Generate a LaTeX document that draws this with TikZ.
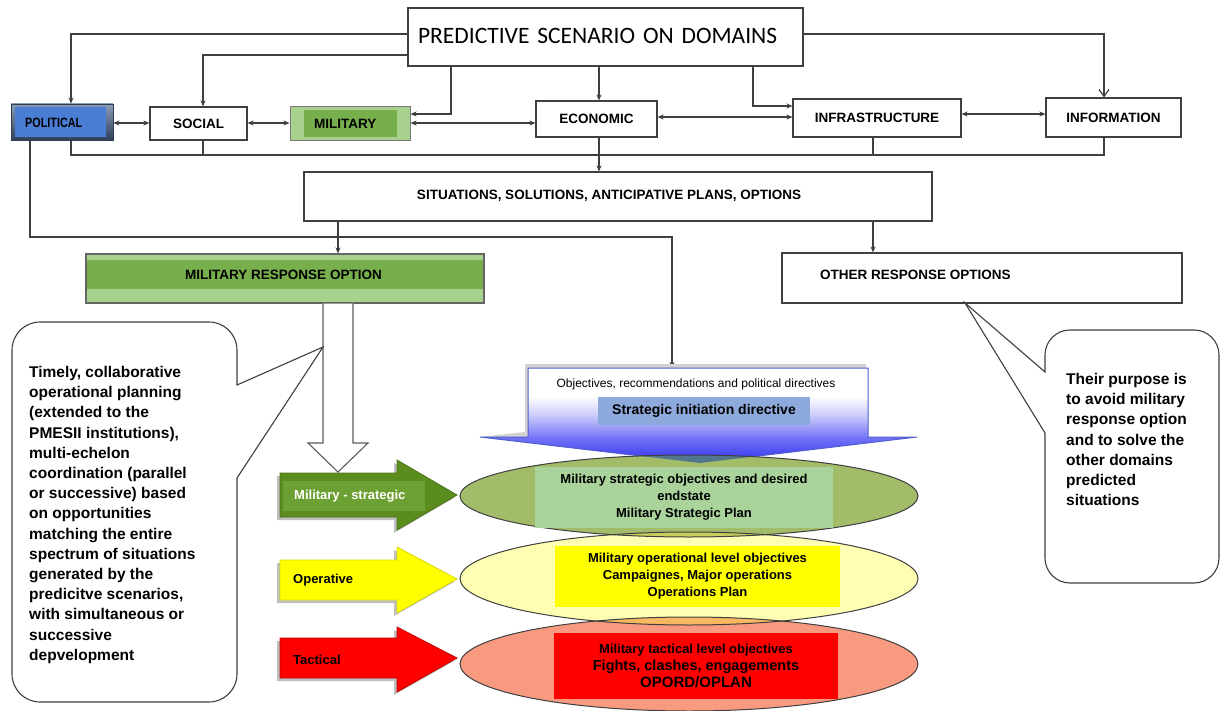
\documentclass[tikz,border=0pt]{standalone}
\usepackage{fontspec}
\setmainfont{Liberation Sans}
\newfontfamily\calfont{Carlito}
\usetikzlibrary{arrows.meta,calc}
\definecolor{ln}{HTML}{3F3F3F}
\definecolor{polblue}{HTML}{4A7DD4}
\definecolor{polT}{HTML}{8A9BB5}
\definecolor{polB}{HTML}{2E3F5A}
\definecolor{lgreen}{HTML}{A9D18E}
\definecolor{mgreen}{HTML}{77AF4C}
\definecolor{dgreen}{HTML}{5B8C1E}
\definecolor{dgreenE}{HTML}{4A7316}
\definecolor{dgreen2}{HTML}{6DA032}
\definecolor{ell1}{HTML}{A2BC6A}
\definecolor{ell1in}{HTML}{A9D39A}
\definecolor{ell2}{HTML}{FFFFB4}
\definecolor{ell3}{HTML}{F79A80}
\definecolor{lens12}{HTML}{C8CE5C}
\definecolor{lens23}{HTML}{F8B862}
\definecolor{lensb}{HTML}{52778C}
\definecolor{sidblue}{HTML}{8EA9DB}
\definecolor{bdeep}{HTML}{3030F0}
\definecolor{bmid}{HTML}{7272F6}
\definecolor{blight}{HTML}{CACAFC}
\definecolor{bline}{HTML}{5060D0}
\definecolor{opyel}{HTML}{FFFF00}
\definecolor{opyelE}{HTML}{D8D800}
\definecolor{tacred}{HTML}{FF0000}
\definecolor{tacredE}{HTML}{C00000}
\pgfdeclareverticalshading{bluearr}{100bp}{color(0bp)=(bdeep); color(25bp)=(bdeep); color(38bp)=(bmid); color(50bp)=(blight); color(60bp)=(white); color(100bp)=(white)}
\tikzset{
  box/.style={draw=ln, line width=1.1pt, fill=white, inner sep=0pt, font=\fontsize{13.5}{16}\selectfont\bfseries},
  conn/.style={draw=ln, line width=1.2pt},
  arr/.style={conn, -{Stealth[length=6pt,width=5pt]}},
  dbl/.style={conn, {Stealth[length=6pt,width=5pt]}-{Stealth[length=6pt,width=5pt]}},
  lbl/.style={inner sep=0pt, font=\fontsize{13.5}{16}\selectfont\bfseries},
  calltext/.style={inner sep=0pt, align=left, font=\fontsize{15.5}{20.2}\selectfont\bfseries},
  elltext/.style={inner sep=0pt, align=center, font=\fontsize{13}{17}\selectfont\bfseries},
  callout/.style={draw=ln, line width=1.1pt, fill=white},
}
\begin{document}
\begin{tikzpicture}[x=1pt,y=-1pt]
\useasboundingbox (0,0) rectangle (1222,711);
\fill[white] (0,0) rectangle (1222,711);

% ---------- top box and domain boxes
\node[box, minimum width=395pt, minimum height=58pt, text width=375pt, align=left,
      font=\calfont\fontsize{23.5}{26}\selectfont] (top) at (605.5,37) {\raisebox{2pt}{PREDICTIVE SCENARIO ON DOMAINS}};

\node[draw=polB, line width=0.8pt, top color=polT, bottom color=polB, minimum width=102pt, minimum height=36pt, inner sep=0pt] (pol) at (62,122) {};
\node[fill=polblue, minimum width=91pt, minimum height=30pt, inner sep=0pt] (polin) at (60.5,122) {};
\node[lbl, anchor=west] (poltxt) at (25,123) {\scalebox{0.8}[1]{POLITICAL}};

\node[box, minimum width=97pt, minimum height=33pt] (soc) at (198.5,123.5) {SOCIAL};

\node[draw=ln!70, line width=1pt, fill=lgreen, minimum width=120pt, minimum height=34pt, inner sep=0pt] (mil) at (350,123.5) {};
\node[fill=mgreen, minimum width=93pt, minimum height=27pt, inner sep=0pt] (milin) at (350.5,123.5) {};
\node[lbl, anchor=west] (miltxt) at (314,124) {MILITARY};

\node[box, minimum width=121pt, minimum height=36pt] (eco) at (596.5,119) {ECONOMIC};
\node[box, minimum width=168pt, minimum height=38pt] (inf) at (877,118) {INFRASTRUCTURE};
\node[box, minimum width=135pt, minimum height=39pt] (info) at (1113.5,117.5) {INFORMATION};

% ---------- connectors from top box
\draw[arr] (top.west |- 0,34) -| (71,0 |- pol.north);
\draw[arr] (top.west |- 0,55) -| (203,0 |- soc.north);
\draw[arr] (451,0 |- top.south) |- (mil.east |- 0,114);
\draw[arr] (599,0 |- top.south) -- (599,0 |- eco.north);
\draw[arr] (753,0 |- top.south) |- (inf.west |- 0,106);
\draw[conn, -{Straight Barb[length=7pt,width=10pt]}] (top.east |- 0,34) -| (1104,0 |- info.north);

% ---------- double arrows between domains
\draw[dbl] (pol.east |- 0,123) -- (soc.west |- 0,123);
\draw[dbl] (soc.east |- 0,123) -- (mil.west |- 0,123);
\draw[dbl] (mil.east |- 0,123) -- (eco.west |- 0,123);
\draw[dbl] (eco.east |- 0,117) -- (inf.west |- 0,117);
\draw[dbl] (inf.east |- 0,114) -- (info.west |- 0,114);

% ---------- collector line
\node[box, minimum width=628pt, minimum height=49pt] (sit) at (618,196.5) {\hspace*{-18pt}\raisebox{3pt}{SITUATIONS, SOLUTIONS, ANTICIPATIVE PLANS, OPTIONS}};
\coordinate (cl) at (71,155);
\coordinate (cr) at (1104,155);
\draw[conn] (71,0 |- pol.south) -- (cl) -- (cr) -- (1104,0 |- info.south);
\draw[conn] (203,0 |- soc.south) -- (203,155);
\draw[conn] (873,0 |- inf.south) -- (873,155);
\draw[arr] (599,0 |- eco.south) -- (599,0 |- sit.north);

% ---------- response options
\fill[lgreen] (86,254) rectangle (484,303);
\fill[mgreen] (86,260) rectangle (484,289);
\node[draw=ln!80, line width=1.1pt, minimum width=398pt, minimum height=49pt, inner sep=0pt] (mro) at (285,278.5) {};
\node[lbl] (mrotxt) at (283.5,275) {MILITARY RESPONSE OPTION};

\node[box, minimum width=400pt, minimum height=50pt] (oro) at (982,278) {};
\node[lbl, anchor=west] (orotxt) at (820,275) {OTHER RESPONSE OPTIONS};

\coordinate (objin) at (672,368);
\draw[arr] (30,0 |- pol.south) |- (672,237) -- (objin);
\draw[arr] (338,0 |- sit.south) -- (338,0 |- mro.north);
\draw[arr] (873,0 |- sit.south) -- (873,0 |- oro.north);

% ---------- blue directive arrow
\fill[gray!35] (525,364) -- (866,364) -- (866,368) -- (528,368) -- (528,437) -- (480,437) -- (525,432) -- cycle;
\path[shading=bluearr, draw=bline, line width=1pt] (528,368) -- (868,368) -- (868,437) -- (917,437) -- (700,463) -- (480,437) -- (528,437) -- cycle;
\node[inner sep=0pt, font=\fontsize{12}{14}\selectfont] (objtxt) at (696,384) {Objectives, recommendations and political directives};
\node[fill=sidblue, minimum width=212pt, minimum height=28pt, inner sep=0pt, font=\fontsize{14}{16}\selectfont\bfseries] (sid) at (704,411) {Strategic initiation directive};

% ---------- ellipses
\fill[ell1] (689,496) ellipse [x radius=229pt, y radius=41pt];
\fill[ell2] (689,578.5) ellipse [x radius=229pt, y radius=46.5pt];
\fill[ell3] (689,664) ellipse [x radius=229pt, y radius=47pt];
\begin{scope}
  \clip (689,496) ellipse [x radius=229pt, y radius=41pt];
  \fill[lens12] (689,578.5) ellipse [x radius=229pt, y radius=46.5pt];
  \fill[lensb] (528,437) -- (480,437) -- (700,463) -- (917,437) -- (868,437) -- cycle;
\end{scope}
\begin{scope}
  \clip (689,578.5) ellipse [x radius=229pt, y radius=46.5pt];
  \fill[lens23] (689,664) ellipse [x radius=229pt, y radius=47pt];
\end{scope}
\draw[ln, line width=1pt] (689,496) ellipse [x radius=229pt, y radius=41pt];
\draw[ln, line width=1pt] (689,578.5) ellipse [x radius=229pt, y radius=46.5pt];
\draw[ln, line width=1pt] (689,664) ellipse [x radius=229pt, y radius=47pt];

\node[fill=ell1in, minimum width=298pt, minimum height=61pt, elltext] (e1t) at (684,497) {Military strategic objectives and desired\\endstate\\Military Strategic Plan};
\node[fill=opyel, minimum width=285pt, minimum height=61pt, elltext] (e2t) at (697.5,576.5) {Military operational level objectives\\Campaignes, Major operations\\Operations Plan};
\node[fill=tacred, minimum width=284pt, minimum height=66pt, elltext] (e3t) at (696,666) {Military tactical level objectives\\{\fontsize{14.5}{18}\selectfont Fights, clashes, engagements}\\{\fontsize{15}{19}\selectfont OPORD/OPLAN}};

% ---------- level arrows
\fill[black, opacity=0.25] (277,476) -- (394,476) -- (394,463) -- (454,498) -- (394,533) -- (394,520) -- (277,520) -- cycle;
\draw[dgreenE, fill=dgreen, line width=0.8pt] (280,473) -- (397,473) -- (397,460) -- (457,495) -- (397,530) -- (397,517) -- (280,517) -- cycle;
\fill[dgreen2] (283,481) rectangle (425,511);
\node[lbl, anchor=west, text=white, font=\fontsize{13}{15}\selectfont\bfseries] (mstxt) at (294,496) {Military - strategic};

\fill[black, opacity=0.25] (277,563) -- (394,563) -- (394,550) -- (454,582) -- (394,616) -- (394,603) -- (277,603) -- cycle;
\draw[opyelE, fill=opyel, line width=0.8pt] (280,560) -- (397,560) -- (397,547) -- (457,579) -- (397,613) -- (397,600) -- (280,600) -- cycle;
\node[lbl, anchor=west, font=\fontsize{13}{15}\selectfont\bfseries] (optxt) at (293,580) {Operative};

\fill[black, opacity=0.25] (277,641) -- (394,641) -- (394,630) -- (454,661) -- (394,695) -- (394,681) -- (277,681) -- cycle;
\draw[tacredE, fill=tacred, line width=0.8pt] (280,638) -- (397,638) -- (397,627) -- (457,658) -- (397,692) -- (397,678) -- (280,678) -- cycle;
\node[lbl, anchor=west, font=\fontsize{13}{15}\selectfont\bfseries] (tactxt) at (293,660) {Tactical};

% ---------- hollow arrow
\draw[ln!85, line width=1.1pt, fill=white] (323,0 |- mro.south) -- (323,443) -- (308,443) -- (338,472) -- (368,443) -- (353,443) -- (353,0 |- mro.south);

% ---------- callouts
\path[callout] (237,478) [rounded corners=28pt] -- (237,702) -- (12,702) -- (12,322) -- (237,322) [sharp corners] -- (237,385) -- (323,347) -- cycle;
\node[calltext, anchor=north west] (lefttxt) at (29,366) {Timely, collaborative\\operational planning\\(extended to the\\PMESII institutions),\\multi-echelon\\coordination (parallel\\or successive) based\\on opportunities\\matching the entire\\spectrum of situations\\generated by the\\predicitve scenarios,\\with simultaneous or\\successive\\depvelopment};

\path[callout] (1045,433) [rounded corners=25pt] -- (1045,583) -- (1219,583) -- (1219,330) -- (1045,330) [sharp corners] -- (1045,372) -- (965,303) -- cycle;
\node[calltext, anchor=north west] (righttxt) at (1066,373) {Their purpose is\\to avoid military\\response option\\and to solve the\\other domains\\predicted\\situations};
\end{tikzpicture}
\end{document}
